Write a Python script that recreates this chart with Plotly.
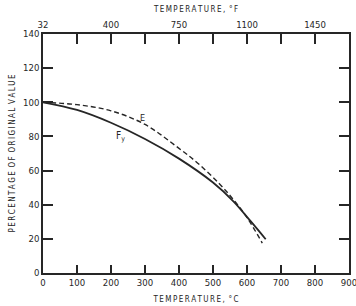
import plotly.graph_objects as go

# Temperature (°C) and percentage of original value
temp_fy = [0, 100, 200, 300, 400, 500, 560, 610, 655]
fy_vals = [100, 95.5, 88, 78.5, 67, 53, 42, 30.5, 19.8]

temp_e = [0, 100, 200, 300, 400, 460, 520, 560, 600, 645]
e_vals = [100, 98.6, 95, 87, 73, 63.5, 52, 43, 32.5, 17.5]

x_ticks = [0, 100, 200, 300, 400, 500, 600, 700, 800, 900]
x_top_ticks = [0, 200, 400, 600, 800]
x_top_labels = ["32", "400", "750", "1100", "1450"]
y_ticks = [0, 20, 40, 60, 80, 100, 120, 140]

ink = "#262626"
font_name = "Liberation Sans Narrow, DejaVu Sans Condensed, sans-serif"

def spaced(s):
    return "\u2009".join(list(s))

fig = go.Figure()
fig.add_trace(go.Scatter(x=temp_fy, y=fy_vals, mode="lines",
                         line=dict(color=ink, width=1.8, shape="spline", smoothing=1.0), showlegend=False))
fig.add_trace(go.Scatter(x=temp_e, y=e_vals, mode="lines",
                         line=dict(color=ink, width=1.4, dash="5px,3px", shape="spline", smoothing=1.0), showlegend=False))
fig.add_trace(go.Scatter(x=[0, 900], y=[None, None], xaxis="x2", showlegend=False))
fig.add_trace(go.Scatter(x=[0], y=[None], yaxis="y2", showlegend=False))

fig.add_annotation(x=292, y=91, text="E", showarrow=False, font=dict(size=9, color=ink, family=font_name))
fig.add_annotation(x=229, y=80, text="F<sub>y</sub>", showarrow=False, font=dict(size=10, color=ink, family=font_name))

axis_common = dict(showgrid=False, zeroline=False, showline=True, linecolor=ink, linewidth=1.5,
                   ticks="inside", tickcolor=ink, tickwidth=1.5, mirror=False,
                   ticklabeloverflow="allow", automargin=False,
                   tickfont=dict(size=9.5, color=ink, family=font_name))

fig.update_layout(
    width=356, height=306,
    margin=dict(l=43, r=7, t=34, b=33),
    paper_bgcolor="white", plot_bgcolor="white",
    xaxis=dict(range=[0, 900], tickvals=x_ticks, ticklen=8, **axis_common,
               title=dict(text=spaced("TEMPERATURE,") + " \u2009" + spaced("°C"),
                          font=dict(size=8, color=ink, family=font_name), standoff=9)),
    xaxis2=dict(range=[0, 900], overlaying="x", side="top", tickvals=x_top_ticks, ticktext=x_top_labels, ticklen=10,
                minor=dict(tickvals=x_ticks, ticks="inside", ticklen=10, tickcolor=ink, tickwidth=1.5),
                **axis_common,
                title=dict(text=spaced("TEMPERATURE,") + " \u2009" + spaced("°F"),
                           font=dict(size=8, color=ink, family=font_name), standoff=6)),
    yaxis=dict(range=[0, 140], tickvals=y_ticks, ticklen=10, **axis_common,
               title=dict(text=spaced("PERCENTAGE") + " \u2009" + spaced("OF") + " \u2009" + spaced("ORIGINAL") + " \u2009" + spaced("VALUE"),
                          font=dict(size=8, color=ink, family=font_name), standoff=6)),
    yaxis2=dict(range=[0, 140], overlaying="y", side="right", tickvals=y_ticks, showticklabels=False, ticklen=10,
                showgrid=False, zeroline=False, showline=True, linecolor=ink, linewidth=1.5,
                ticks="inside", tickcolor=ink, tickwidth=1.5, automargin=False),
)

fig.write_html("out.html")
